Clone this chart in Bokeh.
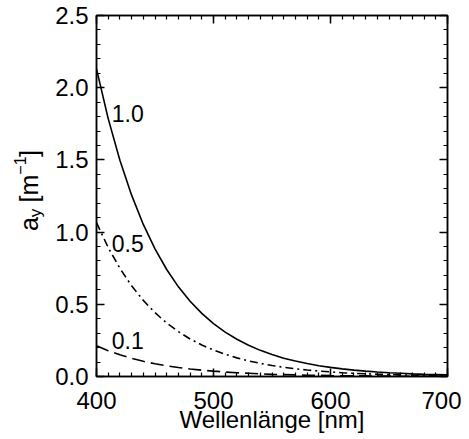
import math
from bokeh.plotting import figure
from bokeh.layouts import row
from bokeh.models import (Range1d, LinearAxis, FixedTicker, Label,
                          PrintfTickFormatter, CustomJSTickFormatter)
from bokeh.core.properties import value
from bokeh.embed import file_html
from bokeh.resources import INLINE

# ---- data ----
wavelength = [400, 410, 420, 430, 440, 450, 460, 470, 480, 490, 500,
              510, 520, 530, 540, 550, 560, 570, 580, 590, 600,
              610, 620, 630, 640, 650, 660, 670, 680, 690, 700]
a_10 = [2.130, 1.786, 1.498, 1.256, 1.053, 0.884, 0.741, 0.621, 0.521, 0.437, 0.366,
        0.307, 0.258, 0.216, 0.181, 0.152, 0.127, 0.107, 0.090, 0.075, 0.063,
        0.053, 0.044, 0.037, 0.031, 0.026, 0.022, 0.018, 0.015, 0.013, 0.011]
a_05 = [1.065, 0.893, 0.749, 0.628, 0.527, 0.442, 0.370, 0.311, 0.260, 0.218, 0.183,
        0.154, 0.129, 0.108, 0.091, 0.076, 0.064, 0.053, 0.045, 0.038, 0.032,
        0.026, 0.022, 0.019, 0.016, 0.013, 0.011, 0.009, 0.008, 0.006, 0.005]
a_01 = [0.213, 0.179, 0.150, 0.126, 0.105, 0.088, 0.074, 0.062, 0.052, 0.044, 0.037,
        0.031, 0.026, 0.022, 0.018, 0.015, 0.013, 0.011, 0.009, 0.008, 0.006,
        0.005, 0.004, 0.004, 0.003, 0.003, 0.002, 0.002, 0.002, 0.001, 0.001]
curve_labels = ["1.0", "0.5", "0.1"]
x_ticks = [400, 500, 600, 700]
x_minor = list(range(400, 701, 10))
y_ticks = [0.0, 0.5, 1.0, 1.5, 2.0, 2.5]
y_minor = [round(0.1 * i, 1) for i in range(26)]

FONT = "Liberation Sans"
TOTAL_H = 431
LABEL_W = 50
FRAME_TOP = 15
FRAME_H = 361

# ---------------- main plot ----------------
p = figure(frame_width=351, frame_height=FRAME_H,
           x_range=Range1d(400, 700), y_range=Range1d(0, 2.5),
           output_backend="svg", toolbar_location=None,
           min_border_left=96 - LABEL_W, min_border_right=14,
           min_border_top=FRAME_TOP, min_border_bottom=55)
p.background_fill_color = "white"
p.border_fill_color = "white"
p.xgrid.visible = False
p.ygrid.visible = False
p.outline_line_color = "black"
p.outline_line_width = 1.5


def style_axis(ax, ticks, minor, labels=True):
    ax.ticker = FixedTicker(ticks=ticks, minor_ticks=minor)
    ax.axis_line_color = "black"
    ax.axis_line_width = 1.5
    ax.major_tick_in = 8
    ax.major_tick_out = 0
    ax.minor_tick_in = 4
    ax.minor_tick_out = 0
    ax.major_tick_line_color = "black"
    ax.minor_tick_line_color = "black"
    ax.major_tick_line_width = 1.5
    ax.minor_tick_line_width = 1.2
    ax.major_label_text_font = FONT
    ax.major_label_text_color = "black"
    ax.major_label_text_font_size = "24px"
    if not labels:
        ax.formatter = CustomJSTickFormatter(code="return ''")
        ax.major_label_standoff = 0


xa = p.xaxis[0]
style_axis(xa, x_ticks, x_minor)
xa.major_label_standoff = 15
xa.axis_label = "Wellenlänge [nm]"
xa.axis_label_text_font = FONT
xa.axis_label_text_font_style = "normal"
xa.axis_label_text_font_size = "24px"
xa.axis_label_text_color = "black"
xa.axis_label_standoff = -6

ya = p.yaxis[0]
style_axis(ya, y_ticks, y_minor)
ya.formatter = PrintfTickFormatter(format="%.1f")
ya.major_label_standoff = 8

top_ax = LinearAxis()
style_axis(top_ax, x_ticks, x_minor, labels=False)
p.add_layout(top_ax, "above")
right_ax = LinearAxis()
style_axis(right_ax, y_ticks, y_minor, labels=False)
p.add_layout(right_ax, "right")

# curves
p.line(wavelength, a_10, line_color="black", line_width=1.6)
p.line(wavelength, a_05, line_color="black", line_width=1.6, line_dash="8 4 2 4")
p.line(wavelength, a_01, line_color="black", line_width=1.6, line_dash="13 6")

# curve labels
p.text(x=[413, 413, 413], y=[1.82, 0.92, 0.25], text=curve_labels,
       text_font=value(FONT), text_font_size="23px", text_color="black",
       text_align="left", text_baseline="alphabetic")

# ---------------- y-axis title strip:  a_y [m^-1] ----------------
# its frame is aligned with the main frame; y range is in page pixels (top-down)
lp = figure(width=LABEL_W, height=TOTAL_H,
            x_range=Range1d(0, LABEL_W),
            y_range=Range1d(FRAME_TOP + FRAME_H, FRAME_TOP),
            output_backend="svg", toolbar_location=None,
            x_axis_location=None, y_axis_location=None,
            min_border_left=0, min_border_right=0,
            min_border_top=FRAME_TOP, min_border_bottom=55)
lp.outline_line_color = None
lp.xgrid.visible = False
lp.ygrid.visible = False
lp.background_fill_color = "white"
lp.border_fill_color = "white"

pieces = [
    ("a", "25px", 28, 233),
    ("y", "17px", 35, 219),
    ("[m", "25px", 28, 204),
    ("\u22121", "16px", 19, 176),
    ("]", "25px", 28, 158),
]
for txt, size, lx, ly in pieces:
    lp.add_layout(Label(x=lx, y=ly, text=txt,
                        angle=math.pi / 2, text_font=FONT, text_font_size=size,
                        text_color="black", text_align="left",
                        text_baseline="alphabetic"))

layout = row(lp, p, spacing=0)
open("out.html", "w").write(file_html(layout, INLINE))
